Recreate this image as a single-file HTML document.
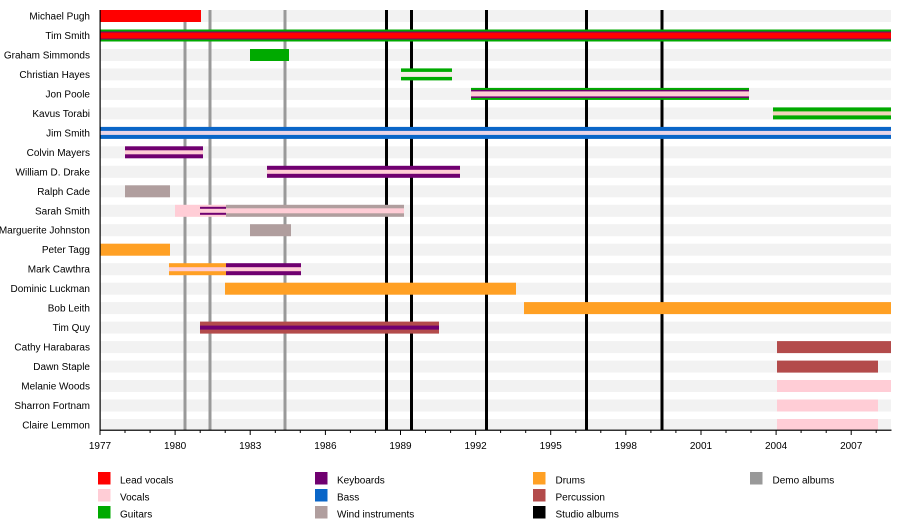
<!DOCTYPE html>
<html><head><meta charset="utf-8"><style>
html,body{margin:0;padding:0;background:#fff;}
svg{display:block;font-family:"Liberation Sans",Arial,sans-serif;}
</style></head><body>
<svg width="900" height="530" viewBox="0 0 900 530" xmlns="http://www.w3.org/2000/svg">
<!-- background stripes -->
<g fill="#f2f2f2">
<rect x="100" y="10" width="791" height="12"/>
<rect x="100" y="29.5" width="791" height="12"/>
<rect x="100" y="49" width="791" height="12"/>
<rect x="100" y="68.4" width="791" height="12"/>
<rect x="100" y="87.9" width="791" height="12"/>
<rect x="100" y="107.4" width="791" height="12"/>
<rect x="100" y="126.9" width="791" height="12"/>
<rect x="100" y="146.3" width="791" height="12"/>
<rect x="100" y="165.8" width="791" height="12"/>
<rect x="100" y="185.3" width="791" height="12"/>
<rect x="100" y="204.8" width="791" height="12"/>
<rect x="100" y="224.2" width="791" height="12"/>
<rect x="100" y="243.7" width="791" height="12"/>
<rect x="100" y="263.2" width="791" height="12"/>
<rect x="100" y="282.7" width="791" height="12"/>
<rect x="100" y="302.1" width="791" height="12"/>
<rect x="100" y="321.6" width="791" height="12"/>
<rect x="100" y="341.1" width="791" height="12"/>
<rect x="100" y="360.6" width="791" height="12"/>
<rect x="100" y="380" width="791" height="12"/>
<rect x="100" y="399.5" width="791" height="12"/>
<rect x="100" y="419" width="791" height="12"/>
</g>
<!-- vertical album lines -->
<g fill="#999999">
<rect x="183.5" y="10" width="3" height="420"/>
<rect x="208.5" y="10" width="3" height="420"/>
<rect x="283.5" y="10" width="3" height="420"/>
</g>
<g fill="#000">
<rect x="385" y="10" width="3" height="420"/>
<rect x="410" y="10" width="3" height="420"/>
<rect x="485" y="10" width="3" height="420"/>
<rect x="585" y="10" width="3" height="420"/>
<rect x="660.5" y="10" width="3" height="420"/>
</g>
<!-- bars -->
<!-- Michael Pugh -->
<rect x="100" y="10" width="101" height="12" fill="#ff0000"/>
<!-- Tim Smith -->
<rect x="100" y="29.5" width="791" height="12" fill="#00aa00"/>
<rect x="100" y="31.5" width="791" height="8" fill="#700070"/>
<rect x="100" y="32.5" width="791" height="6" fill="#ff0000"/>
<!-- Graham Simmonds -->
<rect x="250" y="49" width="39" height="12" fill="#00aa00"/>
<!-- Christian Hayes -->
<rect x="401" y="68.4" width="51" height="12" fill="#00aa00"/>
<rect x="401" y="71.9" width="51" height="5" fill="#f8ece6"/>
<!-- Jon Poole -->
<rect x="471" y="87.9" width="278" height="12" fill="#00aa00"/>
<rect x="471" y="89.9" width="278" height="8" fill="#700070"/>
<rect x="471" y="91.4" width="278" height="5" fill="#ffcdd6"/>
<!-- Kavus Torabi -->
<rect x="773" y="107.4" width="118" height="12" fill="#00aa00"/>
<rect x="773" y="111.4" width="118" height="4" fill="#f2d4bc"/>
<!-- Jim Smith -->
<rect x="100" y="126.9" width="791" height="12" fill="#0a66c8"/>
<rect x="100" y="130.9" width="791" height="4" fill="#ead6e8"/>
<!-- Colvin Mayers -->
<rect x="125" y="146.3" width="78" height="12" fill="#700070"/>
<rect x="125" y="150.3" width="78" height="4" fill="#ffcdd6"/>
<!-- William D. Drake -->
<rect x="267" y="165.8" width="193" height="12" fill="#700070"/>
<rect x="267" y="169.8" width="193" height="4" fill="#ffcdd6"/>
<!-- Ralph Cade -->
<rect x="125" y="185.3" width="45" height="12" fill="#b09e9e"/>
<!-- Sarah Smith -->
<rect x="175" y="204.8" width="51" height="12" fill="#ffcdd6"/>
<rect x="200" y="206.8" width="26" height="8" fill="#700070"/>
<rect x="200" y="208.8" width="26" height="4" fill="#ffcdd6"/>
<rect x="226" y="204.8" width="178" height="12" fill="#b09e9e"/>
<rect x="226" y="208.3" width="178" height="5" fill="#ffcdd6"/>
<!-- Marguerite Johnston -->
<rect x="250" y="224.2" width="41" height="12" fill="#b09e9e"/>
<!-- Peter Tagg -->
<rect x="100" y="243.7" width="70" height="12" fill="#ffa024"/>
<!-- Mark Cawthra -->
<rect x="169" y="263.2" width="57" height="12" fill="#ffa024"/>
<rect x="226" y="263.2" width="75" height="12" fill="#700070"/>
<rect x="169" y="267.2" width="132" height="4" fill="#ffcdd6"/>
<!-- Dominic Luckman -->
<rect x="225" y="282.7" width="291" height="12" fill="#ffa024"/>
<!-- Bob Leith -->
<rect x="524" y="302.1" width="367" height="12" fill="#ffa024"/>
<!-- Tim Quy -->
<rect x="200" y="321.6" width="239" height="12" fill="#b34b4b"/>
<rect x="200" y="325.6" width="239" height="4" fill="#700070"/>
<!-- Cathy Harabaras -->
<rect x="777" y="341.1" width="114" height="12" fill="#b34b4b"/>
<!-- Dawn Staple -->
<rect x="777" y="360.6" width="101" height="12" fill="#b34b4b"/>
<!-- Melanie Woods -->
<rect x="777" y="380" width="114" height="12" fill="#ffcdd6"/>
<!-- Sharron Fortnam -->
<rect x="777" y="399.5" width="101" height="12" fill="#ffcdd6"/>
<!-- Claire Lemmon -->
<rect x="777" y="419" width="101" height="11" fill="#ffcdd6"/>

<!-- axes -->
<rect x="99.5" y="10" width="1.2" height="421" fill="#000"/>
<rect x="99.5" y="429.6" width="792" height="1.2" fill="#000"/>
<g stroke="#000" stroke-width="1">
<line x1="100" y1="430" x2="100" y2="435"/>
<line x1="125" y1="430" x2="125" y2="433"/>
<line x1="150.1" y1="430" x2="150.1" y2="433"/>
<line x1="175.1" y1="430" x2="175.1" y2="435"/>
<line x1="200.2" y1="430" x2="200.2" y2="433"/>
<line x1="225.2" y1="430" x2="225.2" y2="433"/>
<line x1="250.2" y1="430" x2="250.2" y2="435"/>
<line x1="275.3" y1="430" x2="275.3" y2="433"/>
<line x1="300.3" y1="430" x2="300.3" y2="433"/>
<line x1="325.4" y1="430" x2="325.4" y2="435"/>
<line x1="350.4" y1="430" x2="350.4" y2="433"/>
<line x1="375.4" y1="430" x2="375.4" y2="433"/>
<line x1="400.5" y1="430" x2="400.5" y2="435"/>
<line x1="425.5" y1="430" x2="425.5" y2="433"/>
<line x1="450.6" y1="430" x2="450.6" y2="433"/>
<line x1="475.6" y1="430" x2="475.6" y2="435"/>
<line x1="500.6" y1="430" x2="500.6" y2="433"/>
<line x1="525.7" y1="430" x2="525.7" y2="433"/>
<line x1="550.7" y1="430" x2="550.7" y2="435"/>
<line x1="575.8" y1="430" x2="575.8" y2="433"/>
<line x1="600.8" y1="430" x2="600.8" y2="433"/>
<line x1="625.8" y1="430" x2="625.8" y2="435"/>
<line x1="650.9" y1="430" x2="650.9" y2="433"/>
<line x1="675.9" y1="430" x2="675.9" y2="433"/>
<line x1="701" y1="430" x2="701" y2="435"/>
<line x1="726" y1="430" x2="726" y2="433"/>
<line x1="751" y1="430" x2="751" y2="433"/>
<line x1="776.1" y1="430" x2="776.1" y2="435"/>
<line x1="801.1" y1="430" x2="801.1" y2="433"/>
<line x1="826.2" y1="430" x2="826.2" y2="433"/>
<line x1="851.2" y1="430" x2="851.2" y2="435"/>
<line x1="876.2" y1="430" x2="876.2" y2="433"/>
</g>
<g font-size="10" fill="#000" text-anchor="middle">
<text x="100" y="449">1977</text>
<text x="175.1" y="449">1980</text>
<text x="250.2" y="449">1983</text>
<text x="325.4" y="449">1986</text>
<text x="400.5" y="449">1989</text>
<text x="475.6" y="449">1992</text>
<text x="550.7" y="449">1995</text>
<text x="625.8" y="449">1998</text>
<text x="701" y="449">2001</text>
<text x="776.1" y="449">2004</text>
<text x="851.2" y="449">2007</text>
</g>
<!-- row labels -->
<g font-size="10" fill="#000" text-anchor="end">
<text x="90" y="19.5">Michael Pugh</text>
<text x="90" y="39">Tim Smith</text>
<text x="90" y="58.5">Graham Simmonds</text>
<text x="90" y="78">Christian Hayes</text>
<text x="90" y="97.4">Jon Poole</text>
<text x="90" y="116.9">Kavus Torabi</text>
<text x="90" y="136.4">Jim Smith</text>
<text x="90" y="155.8">Colvin Mayers</text>
<text x="90" y="175.3">William D. Drake</text>
<text x="90" y="194.8">Ralph Cade</text>
<text x="90" y="214.3">Sarah Smith</text>
<text x="90" y="233.7">Marguerite Johnston</text>
<text x="90" y="253.2">Peter Tagg</text>
<text x="90" y="272.7">Mark Cawthra</text>
<text x="90" y="292.2">Dominic Luckman</text>
<text x="90" y="311.6">Bob Leith</text>
<text x="90" y="331.1">Tim Quy</text>
<text x="90" y="350.6">Cathy Harabaras</text>
<text x="90" y="370.1">Dawn Staple</text>
<text x="90" y="389.5">Melanie Woods</text>
<text x="90" y="409">Sharron Fortnam</text>
<text x="90" y="428.5">Claire Lemmon</text>
</g>
<!-- legend -->
<rect x="98" y="472" width="12.5" height="12.5" fill="#ff0000"/>
<rect x="98" y="489" width="12.5" height="12.5" fill="#ffcdd6"/>
<rect x="98" y="506" width="12.5" height="12.5" fill="#00aa00"/>
<rect x="315" y="472" width="12.5" height="12.5" fill="#700070"/>
<rect x="315" y="489" width="12.5" height="12.5" fill="#0a66c8"/>
<rect x="315" y="506" width="12.5" height="12.5" fill="#b09e9e"/>
<rect x="533" y="472" width="12.5" height="12.5" fill="#ffa024"/>
<rect x="533" y="489" width="12.5" height="12.5" fill="#b34b4b"/>
<rect x="533" y="506" width="12.5" height="12.5" fill="#000"/>
<rect x="750" y="472" width="12.5" height="12.5" fill="#999999"/>
<g font-size="10" fill="#000">
<text x="120" y="483.5">Lead vocals</text>
<text x="120" y="500.5">Vocals</text>
<text x="120" y="517.5">Guitars</text>
<text x="337" y="483.5">Keyboards</text>
<text x="337" y="500.5">Bass</text>
<text x="337" y="517.5">Wind instruments</text>
<text x="555.5" y="483.5">Drums</text>
<text x="555.5" y="500.5">Percussion</text>
<text x="555.5" y="517.5">Studio albums</text>
<text x="772.5" y="483.5">Demo albums</text>
</g>
</svg>
</body></html>
